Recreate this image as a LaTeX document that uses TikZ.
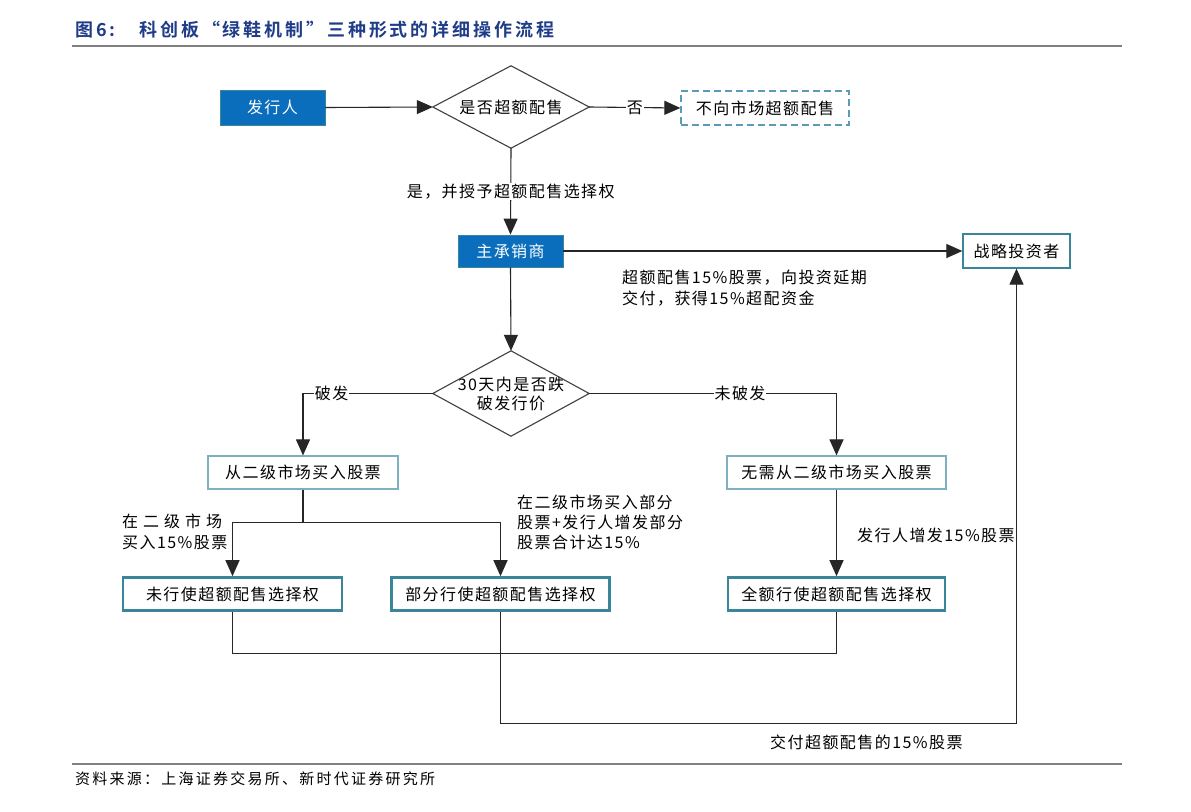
\documentclass[tikz,border=0pt]{standalone}
\usepackage{fontspec}
\setmainfont{Noto Sans CJK SC}
\newfontfamily\bodyfont[LetterSpace=9]{Noto Sans CJK SC}
\newfontfamily\titlefont[LetterSpace=16]{Noto Sans CJK SC Bold}
\newfontfamily\srcfont[LetterSpace=15]{Noto Sans CJK SC}
\usetikzlibrary{arrows.meta,shapes.geometric}
\definecolor{fillblue}{HTML}{0A6EBD}
\definecolor{tealA}{HTML}{7FB0BF}
\definecolor{tealB}{HTML}{3A8599}
\definecolor{tealD}{HTML}{5B9BB5}
\definecolor{titleblue}{HTML}{1F3C88}
\definecolor{rulegray}{HTML}{808080}
\begin{document}
\begin{tikzpicture}[x=1pt,y=-1pt,
  txt/.style={font=\bodyfont\fontsize{16}{19}\selectfont, text=black},
  bluebox/.style={txt, draw=tealB, line width=0.8pt, fill=fillblue, text=white, inner sep=0pt, minimum height=33pt},
  thinbox/.style={txt, draw=tealA, line width=1.2pt, fill=white, inner sep=0pt, minimum height=33pt},
  thickbox/.style={txt, draw=tealB, line width=2.6pt, fill=white, inner sep=0pt, minimum height=33pt},
  dashbox/.style={txt, draw=tealD, line width=1.3pt, dashed, dash pattern=on 7pt off 4pt, fill=white, inner sep=0pt, minimum height=34pt},
  dia/.style={txt, inner sep=0pt, minimum width=156pt, minimum height=82pt, align=center},
  diaedge/.style={draw=black!75, line width=1.1pt},
  conn/.style={draw=black!85, line width=1.1pt},
  arr/.style={conn, -{Triangle[length=16pt,width=14pt]}},
  lbl/.style={txt, fill=white, inner sep=1pt},
  freetxt/.style={txt, align=left, inner sep=0pt, anchor=north west}
]
\useasboundingbox (0,0) rectangle (1191,811);
\fill[white] (0,0) rectangle (1191,811);

% title and rules
\node[anchor=west, inner sep=0pt, text=titleblue, font=\titlefont\fontsize{18}{20}\selectfont] (title) at (75,30) {图6:\hspace{24pt}科创板“绿鞋机制”三种形式的详细操作流程};
\draw[rulegray, line width=1.5pt] (72,46) -- (1122,46);
\draw[rulegray, line width=1.2pt] (72,764) -- (1122,764);
\node[anchor=west, inner sep=0pt, font=\srcfont\fontsize{15}{18}\selectfont] (src) at (75,779) {资料来源：上海证券交易所、新时代证券研究所};

% nodes
\node[bluebox, minimum width=105pt, minimum height=35pt] (issuer) at (272.5,107.5) {发行人};
\node[dia] (d1) at (511,107) {是否超额配售};
\path[diaedge] (d1.north) -- (d1.east) -- (d1.south) -- (d1.west) -- cycle;
\node[dashbox, minimum width=168pt] (nooa) at (765,108) {不向市场超额配售};
\node[bluebox, minimum width=105pt, minimum height=32pt] (uw) at (510.5,251) {主承销商};
\node[thinbox, draw=tealB, line width=1.3pt, minimum width=107pt, minimum height=34pt] (si) at (1016.5,251) {战略投资者};
\node[dia, minimum height=85pt] (d2) at (511,393.5) {30天内是否跌\\破发行价};
\path[diaedge] (d2.north) -- (d2.east) -- (d2.south) -- (d2.west) -- cycle;
\node[thinbox, minimum width=190pt] (buy) at (303,472.5) {从二级市场买入股票};
\node[thinbox, minimum width=219pt] (nobuy) at (836.5,472.5) {无需从二级市场买入股票};
\node[thickbox, minimum width=219pt] (notex) at (232.5,594) {未行使超额配售选择权};
\node[thickbox, minimum width=218pt] (part) at (500.5,594) {部分行使超额配售选择权};
\node[thickbox, minimum width=217pt] (full) at (836.5,594) {全额行使超额配售选择权};

% free texts
\node[freetxt] (t1) at (622,270) {超额配售15\%股票，向投资延期\\[2pt]交付，获得15\%超配资金};
\node[freetxt] (t2) at (122,514) {在\hspace{5pt}二\hspace{5pt}级\hspace{5pt}市\hspace{5pt}场\\[2pt]买入15\%股票};
\node[freetxt] (t3) at (517,495) {在二级市场买入部分\\[1pt]股票+发行人增发部分\\[1pt]股票合计达15\%};
\node[freetxt, anchor=west] (t4) at (857,535) {发行人增发15\%股票};
\node[freetxt, anchor=west] (t5) at (770,742) {交付超额配售的15\%股票};

% connectors
\draw[arr] (issuer.east) -- (d1.west);
\draw[arr] (d1.east) -- node[lbl]{否} (nooa.west);
\draw[arr] (d1.south) -- node[lbl]{是，并授予超额配售选择权} (uw.north);
\draw[arr] (uw.east) -- (si.west);
\draw[arr] (uw.south) -- (d2.north);
\draw[arr] (d2.west) -| node[lbl, pos=0.39]{破发} (buy.north);
\draw[arr] (d2.east) -| node[lbl, pos=0.305]{未破发} (nobuy.north);
\coordinate (j1) at ([yshift=-33pt]buy.south);
\draw[conn] (buy.south) -- (j1);
\draw[arr] (j1) -| (notex.north);
\draw[arr] (j1) -| (part.north);
\draw[arr] (nobuy.south) -- (full.north);
\draw[conn] (notex.south) -- ++(0,42) -| (full.south);
\draw[arr] (part.south) -- ++(0,112) -| (si.south);
\end{tikzpicture}
\end{document}
